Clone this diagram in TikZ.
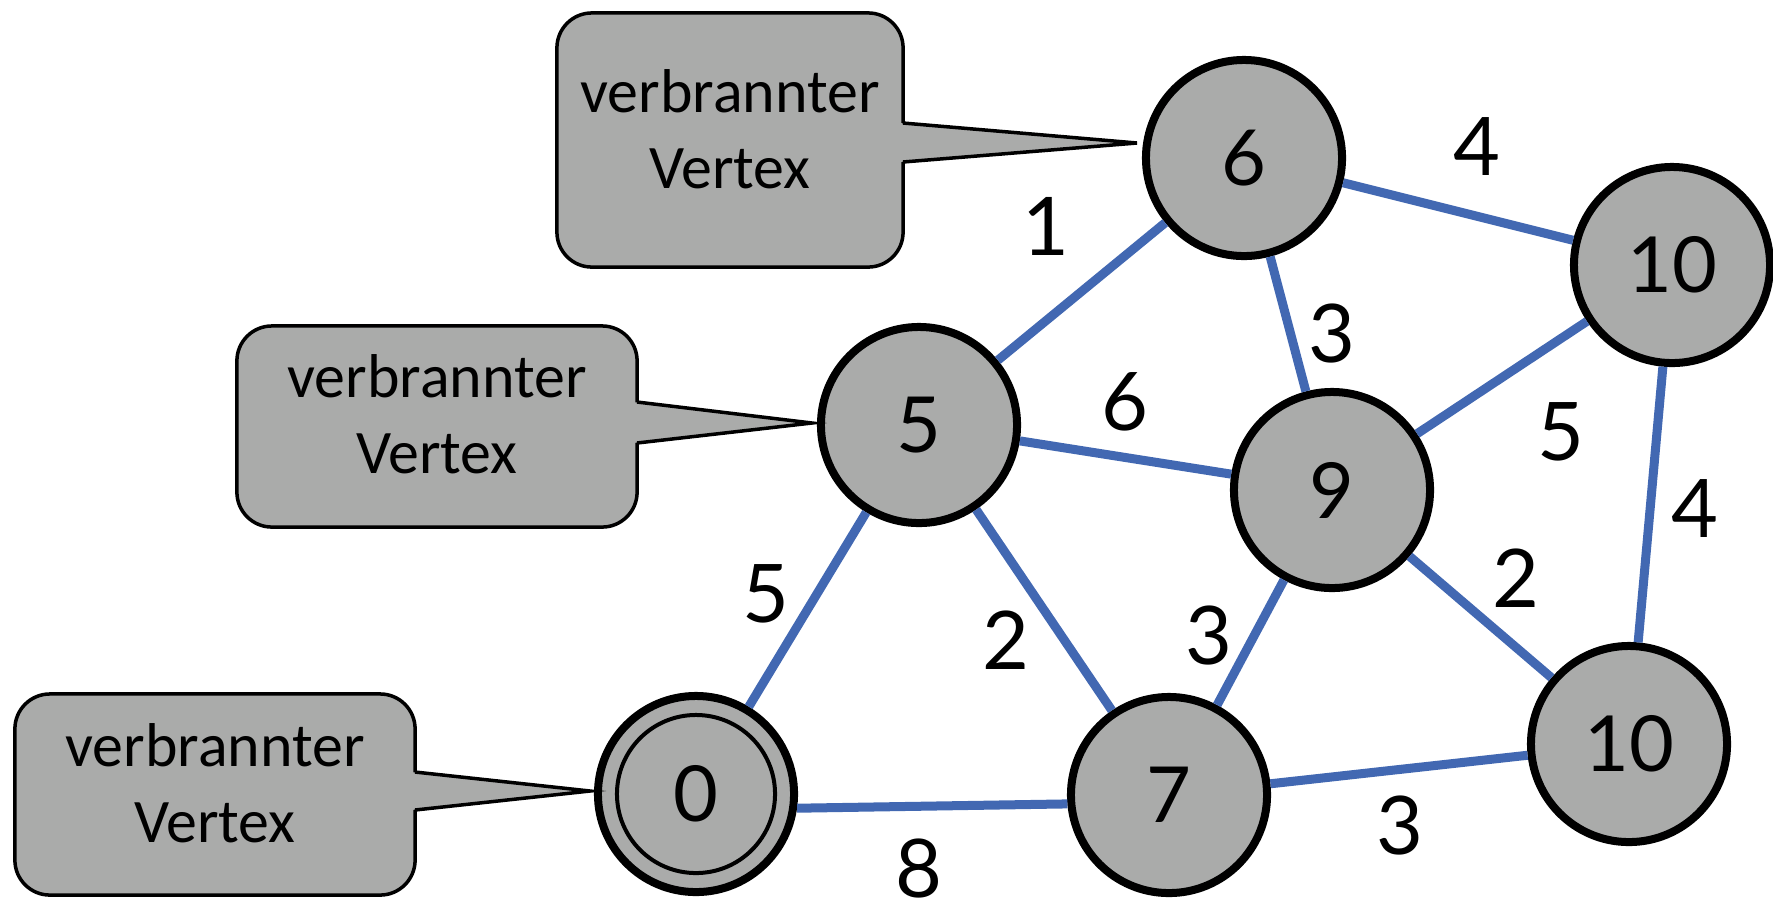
\documentclass[tikz,border=0pt]{standalone}
\usepackage{fontspec}
\setmainfont{Lato}
\newfontfamily\calloutfont{Carlito}
\definecolor{edgeblue}{RGB}{66,104,178}
\definecolor{vgray}{RGB}{170,171,170}

\begin{document}
\begin{tikzpicture}[x=0.01cm, y=-0.01cm,
  vertex/.style={circle, draw=black, fill=vgray, line width=0.08cm,
    minimum size=1.96cm, inner sep=0pt, font=\fontsize{22}{26}\selectfont},
  startvertex/.style={vertex, path picture={
    \draw[line width=0.04cm] (path picture bounding box.center) circle (0.79cm);}},
  link/.style={draw=edgeblue, line width=0.09cm},
  weight/.style={inner sep=0pt, font=\fontsize{23}{27}\selectfont},
  bubble/.style={draw=black, fill=vgray, line width=0.035cm,
    rounded corners=0.35cm, inner sep=0pt},
  bubbletext/.style={align=center, inner sep=0pt, anchor=base,
    font=\calloutfont\fontsize{17.6}{21.6}\selectfont},
  pointerfill/.style={fill=vgray},
  pointerline/.style={draw=black, line width=0.035cm, line join=miter}
]
\useasboundingbox (0,0) rectangle (1773,911);

% vertices with their current distances
\node[vertex] (n6)  at (1244,158) {6};
\node[vertex] (n10t) at (1672,265) {10};
\node[vertex] (n5)  at (919,425)  {5};
\node[vertex] (n9)  at (1332,490) {9};
\node[startvertex] (n0) at (696,794) {0};
\node[vertex] (n7)  at (1169,795) {7};
\node[vertex] (n10b) at (1629,744) {10};

% weighted edges
\draw[link] (n6) -- (n10t);
\draw[link] (n6) -- (n5);
\draw[link] (n6) -- (n9);
\draw[link] (n5) -- (n9);
\draw[link] (n9) -- (n10t);
\draw[link] (n10t) -- (n10b);
\draw[link] (n9) -- (n10b);
\draw[link] (n5) -- (n0);
\draw[link] (n5) -- (n7);
\draw[link] (n9) -- (n7);
\draw[link] (n0.-8) -- (n7.-175);
\draw[link] (n7) -- (n10b);

% edge weights
\node[weight] (w1)  at (1477,147) {4};
\node[weight] (w2)  at (1046,226) {1};
\node[weight] (w3)  at (1332,334) {3};
\node[weight] (w4)  at (1125,402) {6};
\node[weight] (w5)  at (1561,432) {5};
\node[weight] (w6)  at (1695,509) {4};
\node[weight] (w7)  at (766,594)  {5};
\node[weight] (w8)  at (1006,640) {2};
\node[weight] (w9)  at (1209,636) {3};
\node[weight] (w10) at (1516,578) {2};
\node[weight] (w11) at (1400,826) {3};
\node[weight] (w12) at (919,868)  {8};

% callouts marking burnt vertices
\node[bubble, minimum width=3.46cm, minimum height=2.54cm] (c1) at (730,140) {};
\coordinate (p1) at (1137,143);
\fill[pointerfill] (899,123) -- (p1) -- (899,162) -- cycle;
\draw[pointerline] (903,123) -- (p1) -- (903,162);
\node[bubbletext] (t1) at (730,188) {verbrannter\\Vertex};

\node[bubble, minimum width=4.00cm, minimum height=2.01cm] (c2) at (437,426.5) {};
\coordinate (p2) at (812,423);
\fill[pointerfill] (633,402) -- (p2) -- (633,443) -- cycle;
\draw[pointerline] (637,402) -- (p2) -- (637,443);
\node[bubbletext] (t2) at (437,473) {verbrannter\\Vertex};

\node[bubble, minimum width=4.00cm, minimum height=2.01cm] (c3) at (215,794.5) {};
\coordinate (p3) at (590,791);
\fill[pointerfill] (411,772) -- (p3) -- (411,810) -- cycle;
\draw[pointerline] (415,772) -- (p3) -- (415,810);
\node[bubbletext] (t3) at (215,842) {verbrannter\\Vertex};
\end{tikzpicture}
\end{document}
